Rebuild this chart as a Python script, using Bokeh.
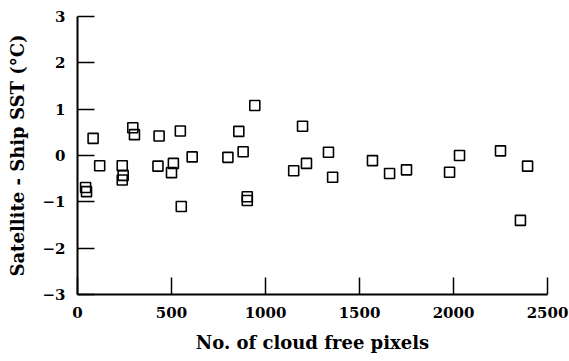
from bokeh.plotting import figure
from bokeh.models import Range1d, FixedTicker
from bokeh.embed import file_html
from bokeh.resources import INLINE

# Data
pixels = [43, 48, 83, 118, 238, 243, 238, 294, 303, 434, 428, 547, 510, 500, 610,
          800, 858, 881, 943, 552, 903, 903,
          1197, 1150, 1218, 1335, 1357, 1569, 1660, 1750, 1979, 2032, 2250, 2394, 2356]
sst_diff = [-0.69, -0.78, 0.37, -0.22, -0.22, -0.43, -0.53, 0.60, 0.45, 0.42, -0.23, 0.53, -0.17, -0.37, -0.03,
            -0.04, 0.52, 0.08, 1.08, -1.10, -0.89, -0.97,
            0.63, -0.33, -0.17, 0.07, -0.47, -0.11, -0.39, -0.31, -0.36, 0.0, 0.10, -0.23, -1.40]
x_ticks = [0, 500, 1000, 1500, 2000, 2500]
y_ticks = [-3, -2, -1, 0, 1, 2, 3]
y_tick_labels = {-3: "\u22123", -2: "\u22122", -1: "\u22121", 0: "0", 1: "1", 2: "2", 3: "3"}

FONT = "DejaVu Serif"

p = figure(width=569, height=361, output_backend="svg", toolbar_location=None,
           x_range=Range1d(0, 2500), y_range=Range1d(-3, 3),
           min_border_left=77, min_border_right=22, min_border_top=16, min_border_bottom=67)
p.outline_line_color = None
p.grid.visible = False
p.background_fill_color = "white"
p.border_fill_color = "white"

p.scatter(pixels, sst_diff, marker="square", size=10, fill_color=None,
          line_color="black", line_width=1.6)

for ax in (p.xaxis[0], p.yaxis[0]):
    ax.axis_line_width = 2
    ax.axis_line_color = "black"
    ax.major_tick_in = 17
    ax.major_tick_out = 0
    ax.major_tick_line_width = 1.5
    ax.minor_tick_line_color = None
    ax.major_label_text_font = FONT
    ax.major_label_text_font_style = "bold"
    ax.major_label_text_font_size = "15px"
    ax.major_label_text_color = "black"
    ax.axis_label_text_font = FONT
    ax.axis_label_text_font_style = "bold"
    ax.axis_label_text_font_size = "18px"
    ax.axis_label_text_color = "black"

p.xaxis.ticker = FixedTicker(ticks=x_ticks)
p.yaxis.ticker = FixedTicker(ticks=y_ticks)
p.yaxis.major_label_overrides = y_tick_labels
p.xaxis.axis_label = "No. of cloud free pixels"
p.yaxis.axis_label = "Satellite - Ship SST (\u00b0C)"
p.xaxis.major_label_standoff = 12
p.yaxis.major_label_standoff = 12
p.xaxis.axis_label_standoff = 11
p.yaxis.axis_label_standoff = 11

open("out.html", "w").write(file_html(p, INLINE))
